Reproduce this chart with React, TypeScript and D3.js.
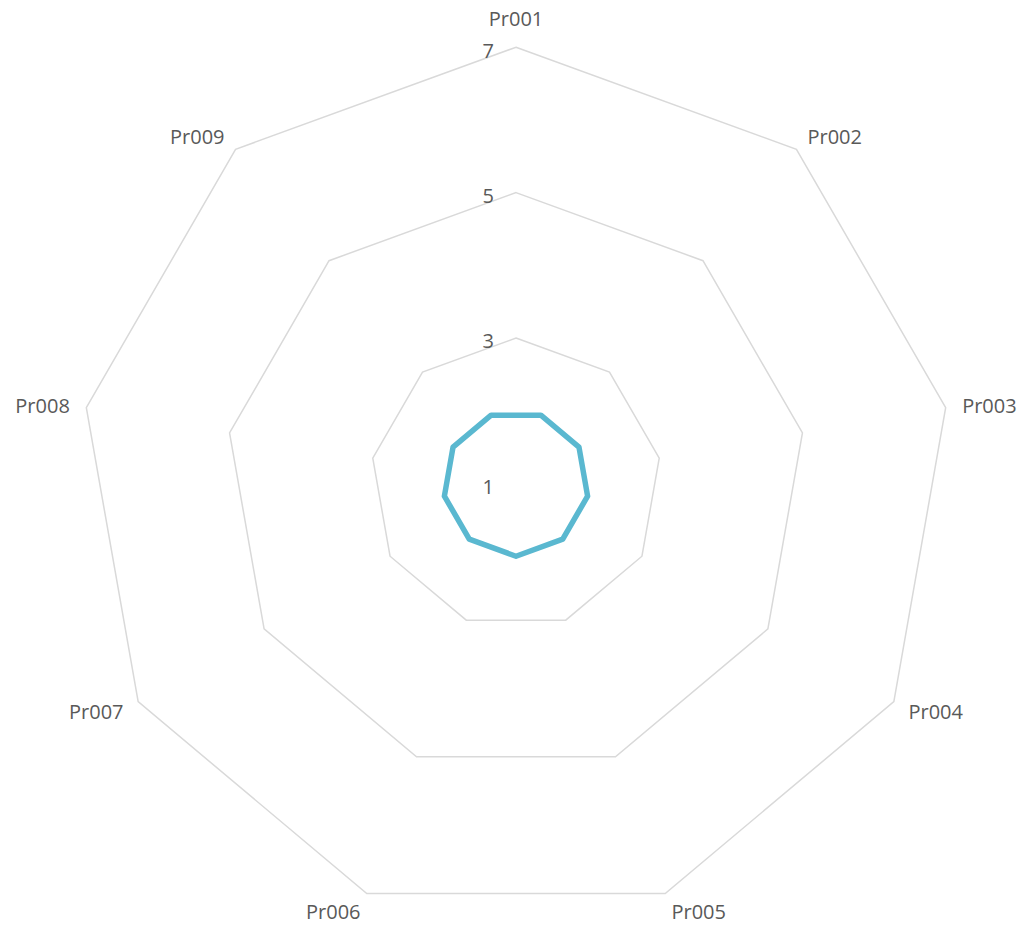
import React from "react";
import * as d3 from "d3";

const categories = ["Pr001", "Pr002", "Pr003", "Pr004", "Pr005", "Pr006", "Pr007", "Pr008", "Pr009"];
const seriesValues = [2, 2, 2, 2, 2, 2, 2, 2, 2];
const tickValues = [1, 3, 5, 7];

const W = 1023;
const H = 929;
const cx = 516;
const cy = 483.5;
const R = 436.3;
const FONT = "'Open Sans', 'Noto Sans', sans-serif";

export default function App() {
  const n = categories.length;
  const step = (2 * Math.PI) / n;
  const r = d3.scaleLinear().domain([1, 7]).range([0, R]);

  const ringPath = (v: number) =>
    d3.lineRadial<number>()
      .angle((_, i) => i * step)
      .radius(() => r(v))
      .curve(d3.curveLinearClosed)(d3.range(n)) as string;

  const seriesPath = d3.lineRadial<number>()
    .angle((_, i) => i * step + step / 2)
    .radius((d) => r(d))
    .curve(d3.curveLinearClosed)(seriesValues) as string;

  return (
    <svg width={W} height={H} style={{ position: "absolute", left: 0, top: 0, background: "#fff" }}>
      <g transform={`translate(${cx},${cy})`}>
        {tickValues.filter((t) => t > 1).map((t) => (
          <path key={t} d={ringPath(t)} fill="none" stroke="#d9d9d9" strokeWidth={1.5} />
        ))}
        <path d={seriesPath} fill="none" stroke="#5ab8d0" strokeWidth={5.5} strokeLinejoin="round" />
        {tickValues.map((t) => (
          <text key={t} x={-22} y={-r(t) + 5} textAnchor="end" dominantBaseline="middle"
            fontFamily={FONT} fontSize={20} fill="#595959">{t}</text>
        ))}
        {categories.map((c, i) => {
          const a = i * step;
          const s = Math.sin(a);
          const co = Math.cos(a);
          const px = r(7) * s;
          const py = -r(7) * co;
          const halfW = 28;
          const dx = Math.abs(s) < 0.05 ? 0 : Math.sign(s) * halfW + s * 16;
          const dy = (co > 0.99 ? -30 : -co * 18) + 3;
          return (
            <text key={c} x={px + dx} y={py + dy} textAnchor="middle" dominantBaseline="middle"
              fontFamily={FONT} fontSize={20} fill="#595959">{c}</text>
          );
        })}
      </g>
    </svg>
  );
}
